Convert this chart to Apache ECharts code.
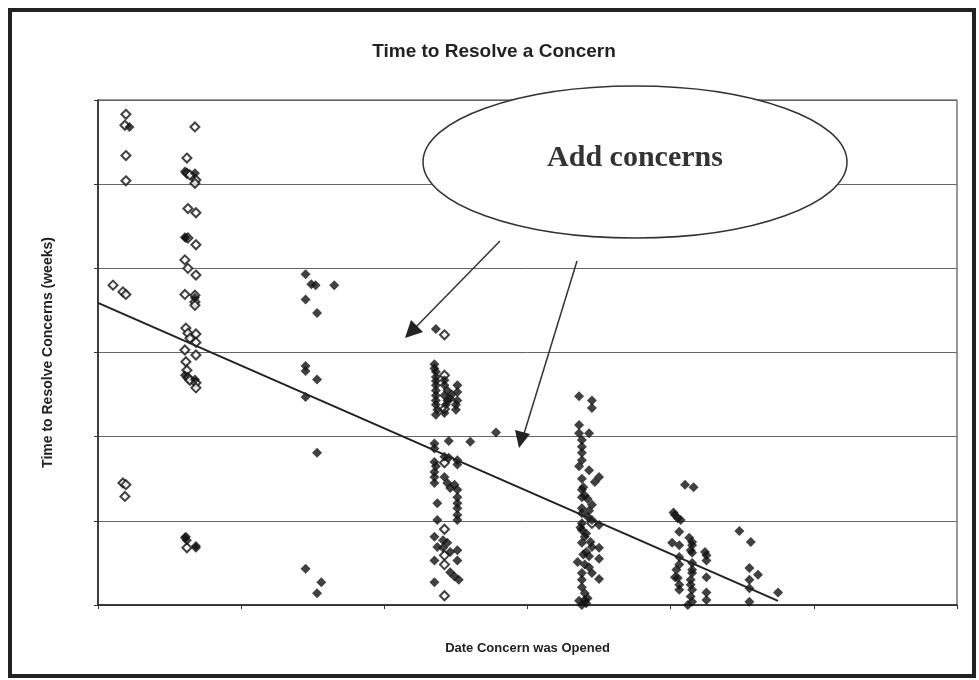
<!DOCTYPE html>
<html>
<head>
<meta charset="utf-8">
<script src="https://cdn.jsdelivr.net/npm/echarts@6/dist/echarts.min.js"></script>
<style>
  html, body { margin: 0; padding: 0; background: #fff; }
  #chart { width: 979px; height: 680px; }
</style>
</head>
<body>
<div id="chart"></div>
<script>
// axis: weeks since first concern (x) and weeks to resolve (y); no tick labels shown
var xTicks = [0, 10, 20, 30, 40, 50, 60];
var yTicks = [0, 10, 20, 30, 40, 50, 60];

// open (white) diamonds
var openPoints = [
    [1.95, 58.3], [1.88, 57.0], [1.95, 53.4], [1.95, 50.4], [1.05, 38.0], [1.74, 37.2], [1.95, 36.9],
    [1.74, 14.5], [1.95, 14.3], [1.88, 12.9],
    [6.77, 56.8], [6.21, 53.1], [6.21, 51.3], [6.42, 51.1], [6.84, 50.5], [6.77, 50.1],
    [6.28, 47.1], [6.84, 46.6], [6.28, 43.6], [6.84, 42.8], [6.07, 41.0], [6.28, 40.0], [6.84, 39.2],
    [6.07, 36.9], [6.77, 36.8], [6.77, 36.0], [6.77, 35.6], [6.14, 32.9], [6.28, 32.3], [6.84, 32.2],
    [6.42, 31.7], [6.84, 31.2], [6.07, 30.3], [6.84, 29.7], [6.14, 28.9], [6.21, 27.9], [6.28, 27.0],
    [6.42, 26.7], [6.84, 26.4], [6.84, 25.8], [6.21, 6.8],
    [24.2, 32.1], [24.2, 27.3], [24.2, 23.3], [24.2, 16.9], [24.2, 9.0], [24.2, 5.9], [24.2, 4.8], [24.2, 1.1],
    [34.5, 9.7]
];

// filled (black) diamonds
var filledPoints = [
    [2.2, 56.8],
    [6.07, 51.5], [6.77, 51.3], [6.07, 43.7], [6.14, 43.6], [6.77, 36.5], [6.07, 27.3], [6.77, 26.8],
    [6.14, 8.1], [6.21, 7.7], [6.84, 7.0], [6.84, 6.8], [6.07, 8.0],
    [14.5, 39.3], [14.9, 38.1], [15.2, 38.0], [16.5, 38.0], [14.5, 36.3], [15.3, 34.7], [14.5, 28.4],
    [14.5, 27.8], [15.3, 26.8], [14.5, 24.7], [15.3, 18.1], [14.5, 4.3], [15.6, 2.7], [15.3, 1.4],
    [23.6, 32.8], [23.5, 28.6], [23.5, 28.1], [23.6, 27.7], [23.6, 27.1], [23.6, 26.6], [23.6, 26.1],
    [23.6, 25.5], [23.6, 24.9], [23.6, 24.3], [23.6, 23.8], [23.7, 23.2], [23.6, 22.6],
    [24.2, 26.7], [24.2, 26.1], [24.4, 25.5], [24.2, 24.9], [24.4, 24.3], [24.3, 23.8], [24.2, 22.8],
    [25.1, 26.1], [25.1, 25.3], [25.1, 24.3], [25.0, 23.8], [25.0, 23.2], [24.7, 25.0], [24.6, 24.5],
    [27.8, 20.5], [24.5, 19.5], [26.0, 19.4], [23.5, 19.2], [23.5, 18.6], [24.2, 17.6], [24.5, 17.5],
    [25.1, 17.2], [25.1, 16.7], [23.5, 15.8], [23.5, 15.2], [23.5, 14.5], [24.2, 15.2], [24.4, 14.5],
    [24.6, 13.9], [24.9, 14.3], [25.1, 13.7], [25.1, 12.8], [25.1, 12.1], [25.1, 11.5], [25.1, 10.7],
    [25.1, 10.1], [23.7, 12.1], [23.7, 10.1], [23.6, 16.5], [23.5, 17.0],
    [23.5, 8.1], [24.1, 7.7], [24.4, 7.4], [23.7, 6.9], [24.1, 6.8], [24.6, 6.3], [25.1, 6.5],
    [23.5, 5.3], [25.1, 5.3], [24.6, 3.9], [24.9, 3.4], [25.2, 3.0], [23.5, 2.7],
    [33.6, 24.8], [34.5, 24.3], [34.5, 23.4], [33.6, 21.4], [33.6, 20.4], [34.3, 20.4], [33.8, 19.6],
    [33.8, 18.8], [33.8, 18.1], [33.8, 17.2], [33.6, 16.5], [34.3, 16.0], [35.0, 15.2], [33.8, 15.0],
    [34.7, 14.6], [33.8, 13.7], [33.8, 12.8], [34.2, 12.6], [34.5, 11.9], [33.8, 11.5], [33.8, 10.9],
    [34.2, 10.5], [34.5, 10.1], [35.0, 9.5], [33.8, 9.7], [33.8, 8.9], [34.0, 8.1], [33.8, 7.4],
    [34.5, 6.9], [35.0, 6.8], [34.1, 6.3], [33.5, 5.1], [34.0, 4.8], [34.3, 4.5], [35.0, 5.5],
    [33.8, 3.8], [34.5, 3.8], [33.8, 3.0], [35.0, 3.1], [33.8, 2.1], [34.0, 1.4], [34.2, 0.8],
    [34.1, 0.2], [33.8, 0.0], [33.6, 0.5], [34.0, 0.6], [33.9, 14.0], [34.0, 13.0], [34.3, 11.2],
    [33.7, 9.2], [34.1, 8.5], [34.4, 7.5], [33.9, 6.0], [34.3, 5.8],
    [41.0, 14.3], [41.6, 14.0], [40.2, 11.0], [40.3, 10.7], [40.5, 10.3], [40.7, 10.1], [40.6, 8.7],
    [44.8, 8.8], [45.6, 7.5], [40.1, 7.4], [40.6, 7.1], [41.3, 8.0], [41.5, 7.5], [41.5, 7.1],
    [41.4, 6.5], [41.5, 6.2], [42.4, 6.3], [42.5, 5.9], [40.6, 5.7], [40.6, 4.8], [41.5, 5.0],
    [42.5, 5.3], [41.5, 4.2], [40.4, 4.2], [40.3, 3.3], [40.5, 3.2], [41.5, 3.8], [41.4, 3.0],
    [42.5, 3.3], [40.6, 2.4], [41.4, 2.4], [41.5, 1.8], [40.6, 1.8], [42.5, 1.5], [41.4, 1.0],
    [41.5, 0.4], [42.5, 0.6], [41.2, 0.0],
    [45.5, 4.4], [46.1, 3.6], [45.5, 3.0], [45.5, 2.0], [47.5, 1.5], [45.5, 0.4]
];

// linear trend line end points
var trendLine = [[0, 35.9], [47.5, 0.5]];

var chart = echarts.init(document.getElementById('chart'));

var option = {
    backgroundColor: '#fff',
    animation: false,
    title: {
        text: 'Time to Resolve a Concern',
        left: 489,
        textAlign: 'center',
        top: 37,
        textStyle: {
            fontFamily: 'Liberation Sans',
            fontSize: 19,
            fontWeight: 'bold',
            color: '#222'
        }
    },
    grid: {
        left: 98,
        right: 22,
        top: 100,
        bottom: 75,
        show: true,
        borderColor: '#333',
        borderWidth: 1
    },
    xAxis: {
        type: 'value',
        min: xTicks[0],
        max: xTicks[xTicks.length - 1],
        interval: 10,
        name: 'Date Concern was Opened',
        nameLocation: 'middle',
        nameGap: 37,
        nameTextStyle: {
            fontFamily: 'Liberation Sans',
            fontSize: 13,
            fontWeight: 'bold',
            color: '#222'
        },
        axisLine: { lineStyle: { color: '#222', width: 1.5 } },
        axisTick: { show: true, length: 4, lineStyle: { color: '#333' } },
        axisLabel: { show: false },
        splitLine: { show: false }
    },
    yAxis: {
        type: 'value',
        min: yTicks[0],
        max: yTicks[yTicks.length - 1],
        interval: 10,
        name: 'Time to Resolve Concerns (weeks)',
        nameLocation: 'middle',
        nameGap: 43,
        nameTextStyle: {
            fontFamily: 'Liberation Sans',
            fontSize: 14,
            fontWeight: 'bold',
            color: '#222'
        },
        axisLine: { show: true, lineStyle: { color: '#222', width: 1.5 } },
        axisTick: { show: true, length: 4, lineStyle: { color: '#333' } },
        axisLabel: { show: false },
        splitLine: { show: true, lineStyle: { color: '#666', width: 1 } }
    },
    series: [
        {
            name: 'open',
            type: 'scatter',
            symbol: 'diamond',
            symbolSize: 9,
            data: openPoints,
            itemStyle: { color: '#fff', borderColor: '#111', borderWidth: 2 }
        },
        {
            name: 'filled',
            type: 'scatter',
            symbol: 'diamond',
            symbolSize: 10,
            data: filledPoints,
            itemStyle: { color: '#111' }
        },
        {
            name: 'trend',
            type: 'line',
            symbol: 'none',
            data: trendLine,
            lineStyle: { color: '#222', width: 2 },
            z: 3
        }
    ],
    graphic: [
        {
            type: 'rect',
            shape: { x: 10, y: 10, width: 964, height: 666 },
            style: { fill: 'none', stroke: '#222', lineWidth: 4 },
            z: 100
        },
        {
            type: 'ellipse',
            shape: { cx: 635, cy: 162, rx: 212, ry: 76 },
            style: { fill: '#fff', stroke: '#333', lineWidth: 1.5 },
            z: 100
        },
        {
            type: 'text',
            x: 635,
            y: 158,
            style: {
                text: 'Add concerns',
                fontFamily: 'Liberation Serif',
                fontSize: 30,
                fontWeight: 'bold',
                fill: '#333',
                align: 'center',
                verticalAlign: 'middle'
            },
            z: 101
        },
        {
            type: 'line',
            shape: { x1: 500, y1: 241, x2: 414, y2: 329 },
            style: { stroke: '#333', lineWidth: 1.5 },
            z: 100
        },
        {
            type: 'polygon',
            shape: { points: [[405, 338], [411, 320], [423, 332]] },
            style: { fill: '#222' },
            z: 100
        },
        {
            type: 'line',
            shape: { x1: 577, y1: 261, x2: 523, y2: 437 },
            style: { stroke: '#333', lineWidth: 1.5 },
            z: 100
        },
        {
            type: 'polygon',
            shape: { points: [[519, 448], [515, 430], [530, 434]] },
            style: { fill: '#222' },
            z: 100
        }
    ]
};

chart.setOption(option);
</script>
</body>
</html>
